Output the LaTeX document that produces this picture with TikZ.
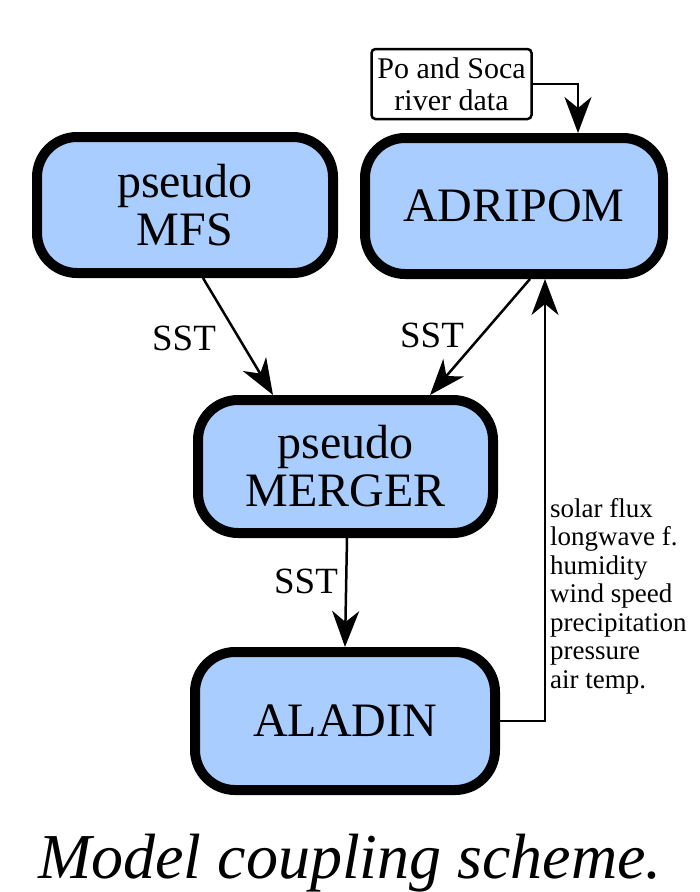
\documentclass[tikz,border=0pt]{standalone}
\usepackage{fontspec}
\setmainfont{Liberation Serif}
\usetikzlibrary{arrows.meta}
\definecolor{boxblue}{RGB}{170,205,255}
\tikzset{
  bigbox/.style={draw, line width=10pt, rounded corners=40pt, fill=boxblue,
    align=center, inner sep=0pt, font=\fontsize{48}{48}\selectfont},
  conn/.style={line width=2.5pt, -{Stealth[length=36pt,width=27pt,inset=11pt]}},
  lbl/.style={anchor=base, inner sep=0pt, font=\fontsize{37}{37}\selectfont},
}
\begin{document}
\begin{tikzpicture}[x=1pt,y=-1pt]
\useasboundingbox (0,0) rectangle (700,892);
\node[bigbox, minimum width=296pt, minimum height=136pt] (mfs) at (185,205) {pseudo\\MFS};
\node[bigbox, minimum width=298pt, minimum height=136pt] (adri) at (514,206) {ADRIPOM};
\node[bigbox, minimum width=295pt, minimum height=133pt] (merger) at (345.5,466.5) {pseudo\\MERGER};
\node[bigbox, minimum width=300pt, minimum height=138pt] (aladin) at (345,721) {ALADIN};
\node[draw, line width=2.5pt, rounded corners=4pt, fill=white, align=center,
  minimum width=160pt, minimum height=70pt, inner sep=2pt,
  font=\fontsize{30}{32}\selectfont] (po) at (451.5,84) {Po and Soca\\river data};
\draw[conn] (po.east) -| ([xshift=64pt]adri.north);
\draw[conn] ([xshift=18pt]mfs.south) -- ([xshift=-72.5pt]merger.north);
\draw[conn] ([xshift=16pt]adri.south) -- ([xshift=84.5pt]merger.north);
\draw[conn] ([xshift=1.5pt]merger.south) -- (aladin.north);
\draw[conn, line width=2pt] (aladin.east) -| ([xshift=31pt]adri.south);
\node[lbl] (s1) at (184,350) {SST};
\node[lbl] (s2) at (432,347) {SST};
\node[lbl] (s3) at (306,593) {SST};
\node[anchor=north west, inner sep=0pt, align=left,
  font=\fontsize{27}{28.5}\selectfont] (vars) at (550,498)
  {solar flux\\longwave f.\\humidity\\wind speed\\precipitation\\pressure\\air temp.};
\node[anchor=base, inner sep=0pt, font=\fontsize{64}{64}\selectfont\itshape] (cap) at (350,878) {Model coupling scheme.};
\end{tikzpicture}
\end{document}
